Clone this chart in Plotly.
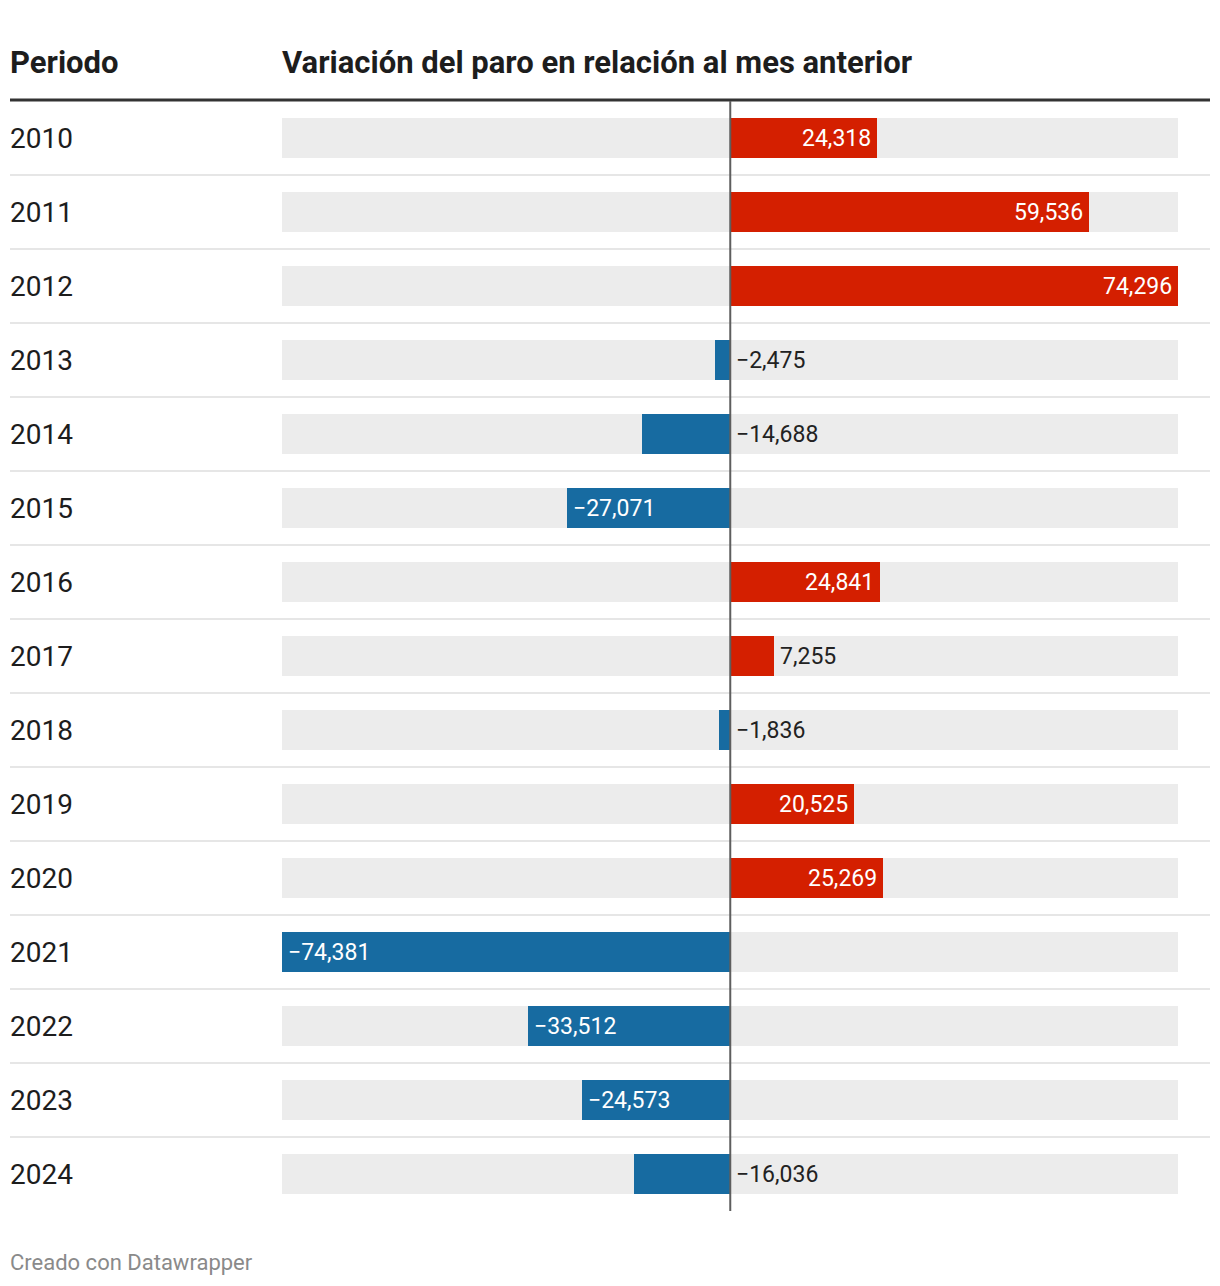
import plotly.graph_objects as go

periods = ["2010", "2011", "2012", "2013", "2014", "2015", "2016", "2017",
           "2018", "2019", "2020", "2021", "2022", "2023", "2024"]
values = [24318, 59536, 74296, -2475, -14688, -27071, 24841, 7255,
          -1836, 20525, 25269, -74381, -33512, -24573, -16036]

RED = "#d41f00"
BLUE = "#176ba1"
BG = "#ececec"
FONT = "Roboto"

# page body margin offset (8px) compensation
OX, OY = 8, 8
W, H = 1220, 1286
L, R, T, B = 282 - OX, 42 + OX, 101 - OY, 75 + OY
plot_w = W - L - R
plot_h = H - T - B

xmin, xmax = min(values), max(values)
n = len(periods)
ys = list(range(n))

def fmt(v):
    s = f"{abs(v):,}"
    return ("\u2212" + s) if v < 0 else s

def px_x(px):  # page px -> paper x
    return (px - OX - L) / plot_w

def px_y(py):  # page px -> paper y
    return 1 - (py - OY - T) / plot_h

fig = go.Figure()
fig.add_trace(go.Bar(
    y=ys, x=[xmax - xmin] * n, base=[xmin] * n, orientation="h",
    marker=dict(color=BG, line=dict(width=0)), width=0.54,
    hoverinfo="skip", showlegend=False))
fig.add_trace(go.Bar(
    y=ys, x=values, orientation="h",
    marker=dict(color=[RED if v >= 0 else BLUE for v in values], line=dict(width=0)),
    width=0.54, hoverinfo="skip", showlegend=False))

units_per_px = (xmax - xmin) / plot_w
annotations = []
for i, v in enumerate(values):
    txt = fmt(v)
    bar_px = abs(v) / units_per_px
    label_px = len(txt) * 13.5 + 14
    inside = bar_px > label_px
    if inside:
        if v >= 0:
            annotations.append(dict(x=v, y=i, xref="x", yref="y", text=txt,
                                    xanchor="right", xshift=-4, showarrow=False,
                                    font=dict(family=FONT, size=23, color="white")))
        else:
            annotations.append(dict(x=v, y=i, xref="x", yref="y", text=txt,
                                    xanchor="left", xshift=4, showarrow=False,
                                    font=dict(family=FONT, size=23, color="white")))
    else:
        xpos = v if v > 0 else 0
        annotations.append(dict(x=xpos, y=i, xref="x", yref="y", text=txt,
                                xanchor="left", xshift=4, showarrow=False,
                                font=dict(family=FONT, size=23, color="#222222")))
    annotations.append(dict(x=px_x(8), y=i, xref="paper", yref="y",
                            text=periods[i], xanchor="left", showarrow=False,
                            font=dict(family=FONT, size=28, color="#1d1d1d")))

annotations.append(dict(x=px_x(8), y=px_y(63), xref="paper", yref="paper",
                        text="<b>Periodo</b>", xanchor="left", yanchor="middle", showarrow=False,
                        font=dict(family=FONT, size=31, color="#1d1d1d")))
annotations.append(dict(x=px_x(280), y=px_y(63), xref="paper", yref="paper",
                        text="<b>Variación del paro en relación al mes anterior</b>",
                        xanchor="left", yanchor="middle", showarrow=False,
                        font=dict(family=FONT, size=31, color="#1d1d1d")))
annotations.append(dict(x=px_x(8), y=px_y(1262), xref="paper", yref="paper",
                        text="Creado con Datawrapper", xanchor="left", yanchor="middle", showarrow=False,
                        font=dict(family=FONT, size=22, color="#8a8a8a")))

shapes = []
x0p = px_x(10)
x1p = px_x(1210)
for i in range(n - 1):
    shapes.append(dict(type="line", xref="paper", yref="y", x0=x0p, x1=x1p,
                       y0=i + 0.5, y1=i + 0.5, line=dict(color="#e6e6e6", width=2)))
shapes.append(dict(type="line", xref="paper", yref="paper", x0=x0p, x1=x1p,
                   y0=px_y(100), y1=px_y(100), line=dict(color="#333333", width=3)))
shapes.append(dict(type="line", xref="x", yref="paper", x0=0, x1=0, y0=0, y1=1,
                   line=dict(color="#5e5e5e", width=2)))

fig.update_layout(
    width=W, height=H, margin=dict(l=L, r=R, t=T, b=B),
    paper_bgcolor="white", plot_bgcolor="white",
    barmode="overlay", bargap=0,
    xaxis=dict(range=[xmin, xmax], visible=False, fixedrange=True),
    yaxis=dict(range=[n - 0.5, -0.5], visible=False, fixedrange=True),
    annotations=annotations, shapes=shapes,
    font=dict(family=FONT),
)
fig.write_html("out.html")
